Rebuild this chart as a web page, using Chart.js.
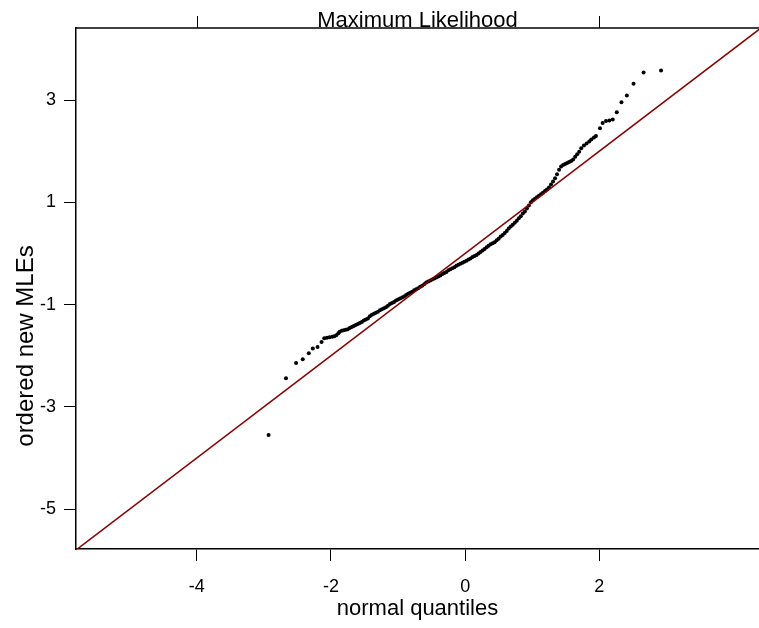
<!DOCTYPE html>
<html>
<head>
<meta charset="utf-8">
<script src="https://cdn.jsdelivr.net/npm/chart.js@4/dist/chart.umd.min.js"></script>
<style>
  html, body { margin: 0; padding: 0; background: #fff; }
  #wrap { width: 759px; height: 628px; }
</style>
</head>
<body>
<div id="wrap"><canvas id="qqChart" width="759" height="628"></canvas></div>
<script>
// normal quantiles (x) and ordered new MLEs (y)
const normalQuantiles = [
  -2.93, -2.67, -2.52, -2.42, -2.33, -2.27, -2.20, -2.14, -2.10, -2.06,
  -2.02, -1.98, -1.95, -1.92, -1.89, -1.87, -1.84, -1.81, -1.78, -1.75,
  -1.72, -1.69, -1.66, -1.63, -1.60, -1.57, -1.54, -1.51, -1.48, -1.45,
  -1.42, -1.39, -1.36, -1.33, -1.30, -1.27, -1.24, -1.21, -1.18, -1.15,
  -1.12, -1.09, -1.06, -1.03, -1.00, -0.97, -0.94, -0.91, -0.88, -0.85,
  -0.82, -0.79, -0.76, -0.73, -0.70, -0.67, -0.64, -0.61, -0.58, -0.55,
  -0.52, -0.49, -0.46, -0.43, -0.40, -0.37, -0.34, -0.31, -0.28, -0.25,
  -0.22, -0.19, -0.16, -0.13, -0.10, -0.07, -0.04, -0.01, 0.02, 0.05,
  0.08, 0.11, 0.14, 0.17, 0.20, 0.23, 0.26, 0.29, 0.32, 0.35,
  0.38, 0.41, 0.44, 0.47, 0.50, 0.53, 0.56, 0.59, 0.62, 0.65,
  0.68, 0.71, 0.74, 0.77, 0.80, 0.83, 0.86, 0.89, 0.92, 0.95,
  0.98, 1.01, 1.04, 1.07, 1.10, 1.13, 1.16, 1.19, 1.22, 1.25,
  1.28, 1.31, 1.34, 1.37, 1.40, 1.43, 1.46, 1.49, 1.52, 1.55,
  1.58, 1.61, 1.64, 1.67, 1.70, 1.73, 1.77, 1.81, 1.85, 1.88,
  1.92, 1.95, 2.01, 2.05, 2.10, 2.15, 2.20, 2.26, 2.33, 2.41,
  2.51, 2.66, 2.92
];
const orderedMLEs = [
  -3.55, -2.44, -2.14, -2.07, -1.95, -1.86, -1.83, -1.73, -1.66, -1.65,
  -1.64, -1.63, -1.62, -1.60, -1.56, -1.53, -1.51, -1.50, -1.49, -1.48,
  -1.46, -1.44, -1.42, -1.40, -1.38, -1.36, -1.34, -1.31, -1.29, -1.27,
  -1.23, -1.20, -1.18, -1.16, -1.14, -1.11, -1.09, -1.07, -1.05, -1.02,
  -0.99, -0.97, -0.95, -0.92, -0.90, -0.88, -0.86, -0.84, -0.81, -0.79,
  -0.77, -0.75, -0.72, -0.70, -0.68, -0.65, -0.63, -0.60, -0.57, -0.55,
  -0.53, -0.51, -0.49, -0.47, -0.45, -0.43, -0.40, -0.38, -0.36, -0.33,
  -0.31, -0.29, -0.27, -0.24, -0.22, -0.20, -0.18, -0.16, -0.14, -0.12,
  -0.10, -0.07, -0.05, -0.03, 0.00, 0.03, 0.06, 0.09, 0.12, 0.15,
  0.18, 0.20, 0.22, 0.26, 0.29, 0.33, 0.36, 0.40, 0.44, 0.49,
  0.53, 0.56, 0.60, 0.64, 0.69, 0.73, 0.78, 0.82, 0.88, 0.94,
  1.00, 1.04, 1.07, 1.10, 1.13, 1.16, 1.19, 1.22, 1.25, 1.29,
  1.35, 1.41, 1.47, 1.55, 1.64, 1.70, 1.73, 1.75, 1.77, 1.79,
  1.81, 1.84, 1.89, 1.94, 1.99, 2.06, 2.11, 2.15, 2.19, 2.23,
  2.27, 2.30, 2.45, 2.55, 2.59, 2.60, 2.62, 2.76, 2.96, 3.09,
  3.32, 3.54, 3.58
];

// reference line y = x
const refLine = [-6, 5];

const xTicks = [-4, -2, 0, 2];
const yTicks = [3, 1, -1, -3, -5];
const topTicks = [-4, 2];

const titleText = 'Maximum Likelihood';
const xLabel = 'normal quantiles';
const yLabel = 'ordered new MLEs';

const FONT = '"Liberation Sans", Arial, Helvetica, sans-serif';

// title, top frame line + ticks and the axis labels drawn by hand
const framePlugin = {
  id: 'framePlugin',
  afterDraw(chart) {
    const ctx = chart.ctx;
    const area = chart.chartArea;
    const xs = chart.scales.x;
    ctx.save();
    ctx.strokeStyle = '#000';
    ctx.lineWidth = 1.5;
    ctx.beginPath();
    ctx.moveTo(area.left, area.top);
    ctx.lineTo(area.right, area.top);
    ctx.stroke();
    ctx.lineWidth = 1;
    topTicks.forEach(function(t) {
      const px = Math.round(xs.getPixelForValue(t)) + 0.5;
      ctx.beginPath();
      ctx.moveTo(px, area.top);
      ctx.lineTo(px, area.top - 12);
      ctx.stroke();
    });

    ctx.fillStyle = '#000';
    ctx.font = '22px ' + FONT;
    ctx.textAlign = 'center';
    ctx.textBaseline = 'alphabetic';
    ctx.fillText(titleText, (area.left + area.right) / 2, area.top - 1);
    ctx.fillText(xLabel, (area.left + area.right) / 2, 615);

    ctx.font = '24px ' + FONT;
    ctx.translate(33, 346);
    ctx.rotate(-Math.PI / 2);
    ctx.fillText(yLabel, 0, 0);
    ctx.restore();
  }
};

document.addEventListener('DOMContentLoaded', function() {
  const ctx = document.getElementById('qqChart').getContext('2d');
  const points = normalQuantiles.map((q, i) => ({ x: q, y: orderedMLEs[i] }));

  new Chart(ctx, {
    type: 'scatter',
    data: {
      datasets: [
        {
          data: refLine.map(v => ({ x: v, y: v })),
          showLine: true,
          borderColor: '#8b0000',
          borderWidth: 1.5,
          pointRadius: 0,
          pointHoverRadius: 0
        },
        {
          data: points,
          backgroundColor: '#000',
          borderColor: '#000',
          borderWidth: 0,
          pointRadius: 2
        }
      ]
    },
    options: {
      responsive: false,
      animation: false,
      devicePixelRatio: 1,
      layout: { autoPadding: false, padding: { top: 28, right: 0, left: 0, bottom: 0 } },
      plugins: {
        legend: { display: false },
        tooltip: { enabled: false }
      },
      scales: {
        x: {
          type: 'linear',
          min: -5.8,
          max: 4.38,
          afterBuildTicks: s => { s.ticks = xTicks.map(v => ({ value: v })); },
          afterFit: s => { s.height = 79; },
          grid: { drawOnChartArea: false, tickLength: 12, color: '#000' },
          border: { color: '#000', width: 1.5 },
          ticks: { color: '#000', padding: 15, font: { family: FONT, size: 18 } }
        },
        y: {
          type: 'linear',
          min: -5.78,
          max: 4.41,
          afterBuildTicks: s => { s.ticks = yTicks.map(v => ({ value: v })); },
          afterFit: s => { s.width = 76; },
          grid: { drawOnChartArea: false, tickLength: 12, color: '#000' },
          border: { color: '#000', width: 1.5 },
          ticks: { color: '#000', padding: 8, font: { family: FONT, size: 18 } }
        }
      }
    },
    plugins: [framePlugin]
  });
});
</script>
</body>
</html>
